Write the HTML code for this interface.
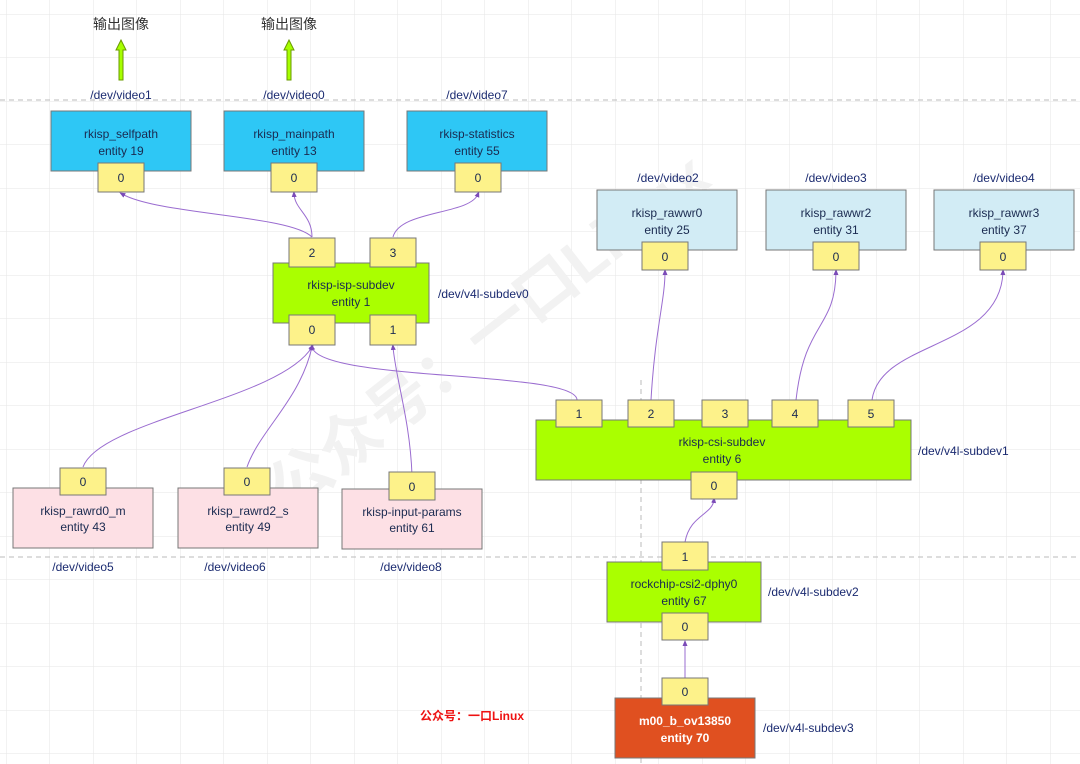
<!DOCTYPE html>
<html><head><meta charset="utf-8"><style>
html,body{margin:0;padding:0;background:#fff}
svg{display:block}
text{font-family:"Liberation Sans","Noto Sans CJK SC",sans-serif}
</style></head><body>
<svg width="1080" height="764" viewBox="0 0 1080 764" xmlns="http://www.w3.org/2000/svg">
<defs>
<pattern id="g" width="43.5" height="43.5" patternUnits="userSpaceOnUse" x="6" y="14">
<path d="M0 0H43.5M0 0V43.5" stroke="#e6e6e6" stroke-width="1" fill="none"/>
</pattern>
<marker id="a" markerWidth="6" markerHeight="6" refX="3" refY="3" orient="auto"><path d="M0,0.5 L6,3 L0,5.5Z" fill="#7b4bb8"/></marker>
</defs>
<rect width="1080" height="764" fill="url(#g)"/>
<g stroke="#bbb" stroke-dasharray="5,4" fill="none">
<path d="M0 100H1080"/><path d="M0 557H1080"/><path d="M641 380V764"/>
</g>
<!-- watermark -->
<text x="0" y="0" transform="translate(290,515) rotate(-38)" font-size="62" fill="#f2f2f2" font-weight="bold">公众号：一口Linux</text>

<!-- green arrows -->
<g fill="#a6ff00" stroke="#6a9a00" stroke-width="1">
<path d="M119 80V50H116L121 40L126 50H123V80Z"/>
<path d="M287 80V50H284L289 40L294 50H291V80Z"/>
</g>
<g font-size="14" fill="#333" text-anchor="middle">
<text x="121" y="29">输出图像</text><text x="289" y="29">输出图像</text>
</g>

<g font-size="12" fill="#1a2a70">
<text x="121" y="99" text-anchor="middle">/dev/video1</text>
<text x="294" y="99" text-anchor="middle">/dev/video0</text>
<text x="477" y="99" text-anchor="middle">/dev/video7</text>
<text x="668" y="182" text-anchor="middle">/dev/video2</text>
<text x="836" y="182" text-anchor="middle">/dev/video3</text>
<text x="1004" y="182" text-anchor="middle">/dev/video4</text>
<text x="438" y="298">/dev/v4l-subdev0</text>
<text x="918" y="455">/dev/v4l-subdev1</text>
<text x="768" y="596">/dev/v4l-subdev2</text>
<text x="763" y="732">/dev/v4l-subdev3</text>
<text x="83" y="571" text-anchor="middle">/dev/video5</text>
<text x="235" y="571" text-anchor="middle">/dev/video6</text>
<text x="411" y="571" text-anchor="middle">/dev/video8</text>
</g>

<!-- connectors -->
<g fill="none" stroke="#9a6cd0" stroke-width="1" marker-end="url(#a)">
<path d="M312 237C290 215 160 215 122 194"/>
<path d="M312 237C312 215 295 210 294 194"/>
<path d="M393 237C400 210 470 215 478 194"/>
<path d="M83 467C100 420 280 400 312 347"/>
<path d="M247 467C260 430 300 400 312 347"/>
<path d="M577 400C577 370 320 382 312 347"/>
<path d="M412 475C410 420 396 380 393 347"/>
<path d="M651 400C655 330 665 300 665 272"/>
<path d="M796 400C805 320 835 330 836 272"/>
<path d="M872 400C880 340 1000 350 1003 272"/>
<path d="M685 542C690 515 712 515 714 500"/>
<path d="M685 678V643"/>
</g>

<!-- boxes -->
<g stroke="#777" stroke-width="1">
<rect x="51" y="111" width="140" height="60" fill="#2ec7f5"/>
<rect x="224" y="111" width="140" height="60" fill="#2ec7f5"/>
<rect x="407" y="111" width="140" height="60" fill="#2ec7f5"/>
<rect x="597" y="190" width="140" height="60" fill="#d2ecf5"/>
<rect x="766" y="190" width="140" height="60" fill="#d2ecf5"/>
<rect x="934" y="190" width="140" height="60" fill="#d2ecf5"/>
<rect x="273" y="263" width="156" height="60" fill="#aaff00"/>
<rect x="536" y="420" width="375" height="60" fill="#aaff00"/>
<rect x="607" y="562" width="154" height="60" fill="#aaff00"/>
<rect x="13" y="488" width="140" height="60" fill="#fde0e5"/>
<rect x="178" y="488" width="140" height="60" fill="#fde0e5"/>
<rect x="342" y="489" width="140" height="60" fill="#fde0e5"/>
<rect x="615" y="698" width="140" height="60" fill="#e05020"/>
</g>
<g font-size="12" fill="#1a2a50" text-anchor="middle">
<text x="121" y="138">rkisp_selfpath</text><text x="121" y="155">entity 19</text>
<text x="294" y="138">rkisp_mainpath</text><text x="294" y="155">entity 13</text>
<text x="477" y="138">rkisp-statistics</text><text x="477" y="155">entity 55</text>
<text x="667" y="217">rkisp_rawwr0</text><text x="667" y="234">entity 25</text>
<text x="836" y="217">rkisp_rawwr2</text><text x="836" y="234">entity 31</text>
<text x="1004" y="217">rkisp_rawwr3</text><text x="1004" y="234">entity 37</text>
<text x="351" y="289">rkisp-isp-subdev</text><text x="351" y="306">entity 1</text>
<text x="722" y="446">rkisp-csi-subdev</text><text x="722" y="463">entity 6</text>
<text x="684" y="588">rockchip-csi2-dphy0</text><text x="684" y="605">entity 67</text>
<text x="83" y="515">rkisp_rawrd0_m</text><text x="83" y="531">entity 43</text>
<text x="248" y="515">rkisp_rawrd2_s</text><text x="248" y="531">entity 49</text>
<text x="412" y="516">rkisp-input-params</text><text x="412" y="532">entity 61</text>
</g>
<g font-size="12" fill="#fff" text-anchor="middle" font-weight="bold">
<text x="685" y="725">m00_b_ov13850</text><text x="685" y="742">entity 70</text>
</g>

<!-- ports -->
<g stroke="#777" stroke-width="1" fill="#fdf28a">
<rect x="98" y="163" width="46" height="29"/>
<rect x="271" y="163" width="46" height="29"/>
<rect x="455" y="163" width="46" height="29"/>
<rect x="642" y="242" width="46" height="28"/>
<rect x="813" y="242" width="46" height="28"/>
<rect x="980" y="242" width="46" height="28"/>
<rect x="289" y="238" width="46" height="29"/>
<rect x="370" y="238" width="46" height="29"/>
<rect x="289" y="315" width="46" height="30"/>
<rect x="370" y="315" width="46" height="30"/>
<rect x="556" y="400" width="46" height="27"/>
<rect x="628" y="400" width="46" height="27"/>
<rect x="702" y="400" width="46" height="27"/>
<rect x="772" y="400" width="46" height="27"/>
<rect x="848" y="400" width="46" height="27"/>
<rect x="691" y="472" width="46" height="27"/>
<rect x="60" y="468" width="46" height="27"/>
<rect x="224" y="468" width="46" height="27"/>
<rect x="389" y="472" width="46" height="28"/>
<rect x="662" y="542" width="46" height="28"/>
<rect x="662" y="613" width="46" height="27"/>
<rect x="662" y="678" width="46" height="27"/>
</g>
<g font-size="12" fill="#1a2a50" text-anchor="middle">
<text x="121" y="182">0</text><text x="294" y="182">0</text><text x="478" y="182">0</text>
<text x="665" y="261">0</text><text x="836" y="261">0</text><text x="1003" y="261">0</text>
<text x="312" y="257">2</text><text x="393" y="257">3</text>
<text x="312" y="334">0</text><text x="393" y="334">1</text>
<text x="579" y="418">1</text><text x="651" y="418">2</text><text x="725" y="418">3</text><text x="795" y="418">4</text><text x="871" y="418">5</text>
<text x="714" y="490">0</text>
<text x="83" y="486">0</text><text x="247" y="486">0</text><text x="412" y="491">0</text>
<text x="685" y="561">1</text><text x="685" y="631">0</text><text x="685" y="696">0</text>
</g>
<text x="420" y="720" font-size="12" font-weight="bold" fill="#ee1111">公众号：一口Linux</text>
</svg>
</body></html>
